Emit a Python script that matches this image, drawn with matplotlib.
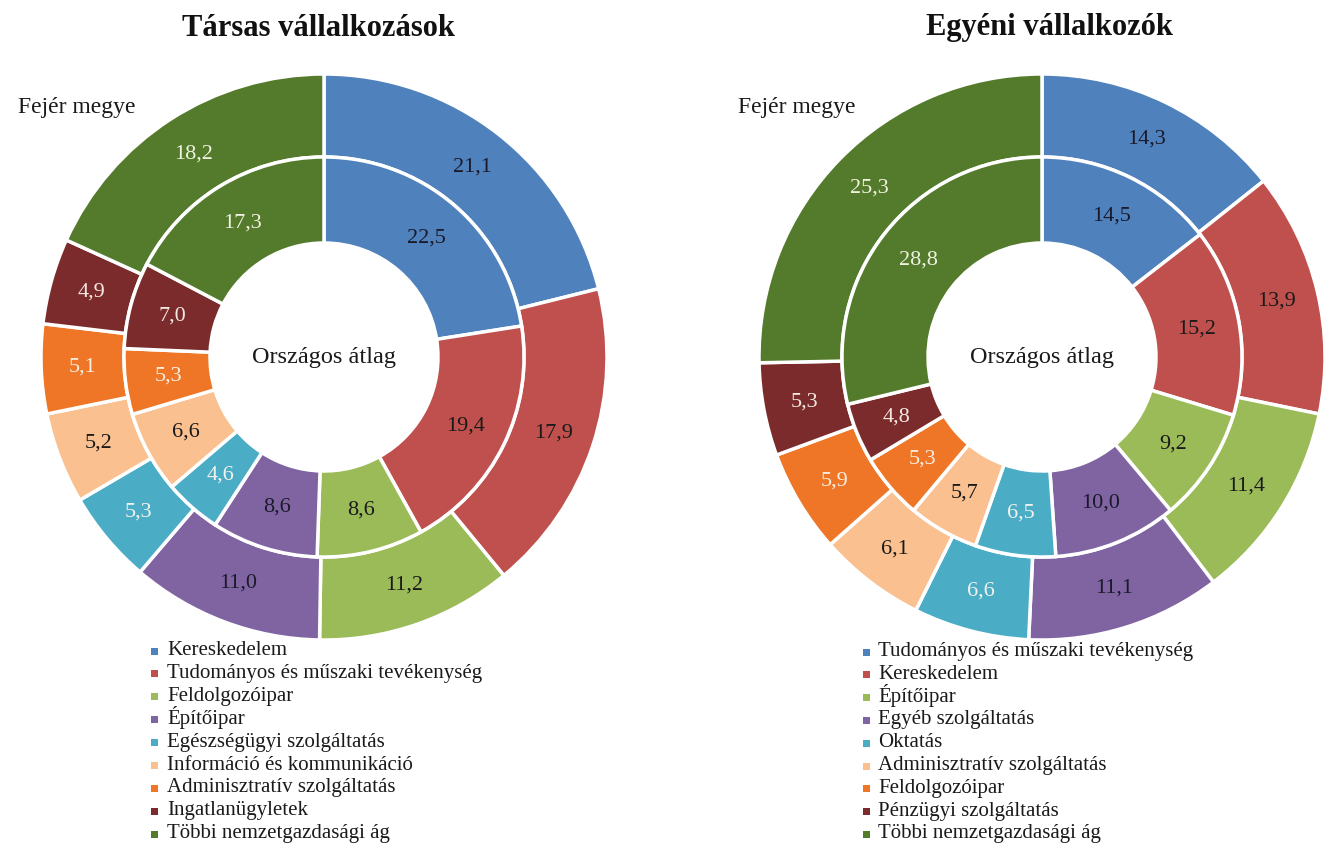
import matplotlib
matplotlib.use("Agg")
import matplotlib.pyplot as plt
from matplotlib.patches import Rectangle
import numpy as np

# Data
left_title = "Társas vállalkozások"
left_categories = ["Kereskedelem", "Tudományos és műszaki tevékenység", "Feldolgozóipar",
                   "Építőipar", "Egészségügyi szolgáltatás", "Információ és kommunikáció",
                   "Adminisztratív szolgáltatás", "Ingatlanügyletek", "Többi nemzetgazdasági ág"]
left_fejer = [21.1, 17.9, 11.2, 11.0, 5.3, 5.2, 5.1, 4.9, 18.2]
left_orszagos = [22.5, 19.4, 8.6, 8.6, 4.6, 6.6, 5.3, 7.0, 17.3]

right_title = "Egyéni vállalkozók"
right_categories = ["Tudományos és műszaki tevékenység", "Kereskedelem", "Építőipar",
                    "Egyéb szolgáltatás", "Oktatás", "Adminisztratív szolgáltatás",
                    "Feldolgozóipar", "Pénzügyi szolgáltatás", "Többi nemzetgazdasági ág"]
right_fejer = [14.3, 13.9, 11.4, 11.1, 6.6, 6.1, 5.9, 5.3, 25.3]
right_orszagos = [14.5, 15.2, 9.2, 10.0, 6.5, 5.7, 5.3, 4.8, 28.8]

colors = ["#4F81BD", "#C0504D", "#9BBB59", "#8064A2", "#4BACC6",
          "#FAC090", "#EE7626", "#7B2B2B", "#547A2C"]
text_colors = ["#1A1A2A", "#1A1A1A", "#1A1A1A", "#1A1A2A", "#F2F2EC",
               "#1A1A1A", "#F7EEE0", "#F2E8E0", "#EEF2E0"]

FONT = ["Liberation Serif", "DejaVu Serif"]
plt.rcParams['font.family'] = FONT

W, H = 1339, 848
fig = plt.figure(figsize=(W / 100, H / 100), dpi=100)

R_PX = 283
r_out_in = 200 / 283
r_hole = 114 / 283


def fmt(v):
    return f"{v:.1f}".replace(".", ",")


def legend(cats, x_marker, x_text, y_first, pitch):
    ms = 7
    for i, (c, lab) in enumerate(zip(colors, cats)):
        yc = y_first + i * pitch
        fig.patches.append(Rectangle(((x_marker - ms / 2) / W, 1 - (yc + 1 + ms / 2) / H),
                                     ms / W, ms / H, transform=fig.transFigure,
                                     facecolor=c, edgecolor="none"))
        fig.text(x_text / W, 1 - (yc + 5) / H, lab, ha="left", va="baseline",
                 fontsize=15, color="#1A1A1A")


def draw(cx, cy, title, title_x, cats, outer, inner):
    ax = fig.add_axes([(cx - R_PX) / W, (H - cy - R_PX) / H, 2 * R_PX / W, 2 * R_PX / H])
    for vals, r, w in [(outer, 1.0, 1.0 - r_out_in), (inner, r_out_in, r_out_in - r_hole)]:
        wedges, _ = ax.pie(vals, radius=r, colors=colors, startangle=90, counterclock=False,
                           wedgeprops=dict(width=w, edgecolor="white", linewidth=2.5))
        rm = r - w / 2
        for wd, v, tc in zip(wedges, vals, text_colors):
            ang = np.deg2rad((wd.theta1 + wd.theta2) / 2)
            ax.text(rm * np.cos(ang), rm * np.sin(ang), fmt(v), ha="center", va="center",
                    fontsize=16, color=tc)
    ax.set_xlim(-1, 1)
    ax.set_ylim(-1, 1)
    ax.set_aspect("equal")
    ax.axis("off")
    ax.text(0, 0, "Országos átlag", ha="center", va="center", fontsize=17.5, color="#1A1A1A")
    fig.text(title_x / W, 1 - 28 / H, title, ha="center", va="center", fontsize=22,
             fontweight="bold", color="#111111")


draw(324, 357, left_title, 319, left_categories, left_fejer, left_orszagos)
draw(1042, 357, right_title, 1049, right_categories, right_fejer, right_orszagos)
legend(left_categories, 154, 167, 650, 22.9)
legend(right_categories, 866, 878, 651, 22.8)

fig.text(18 / W, 1 - 108 / H, "Fejér megye", ha="left", va="center", fontsize=17, color="#1A1A1A")
fig.text(738 / W, 1 - 108 / H, "Fejér megye", ha="left", va="center", fontsize=17, color="#1A1A1A")

fig.savefig("out.png", dpi=100, facecolor="white")
